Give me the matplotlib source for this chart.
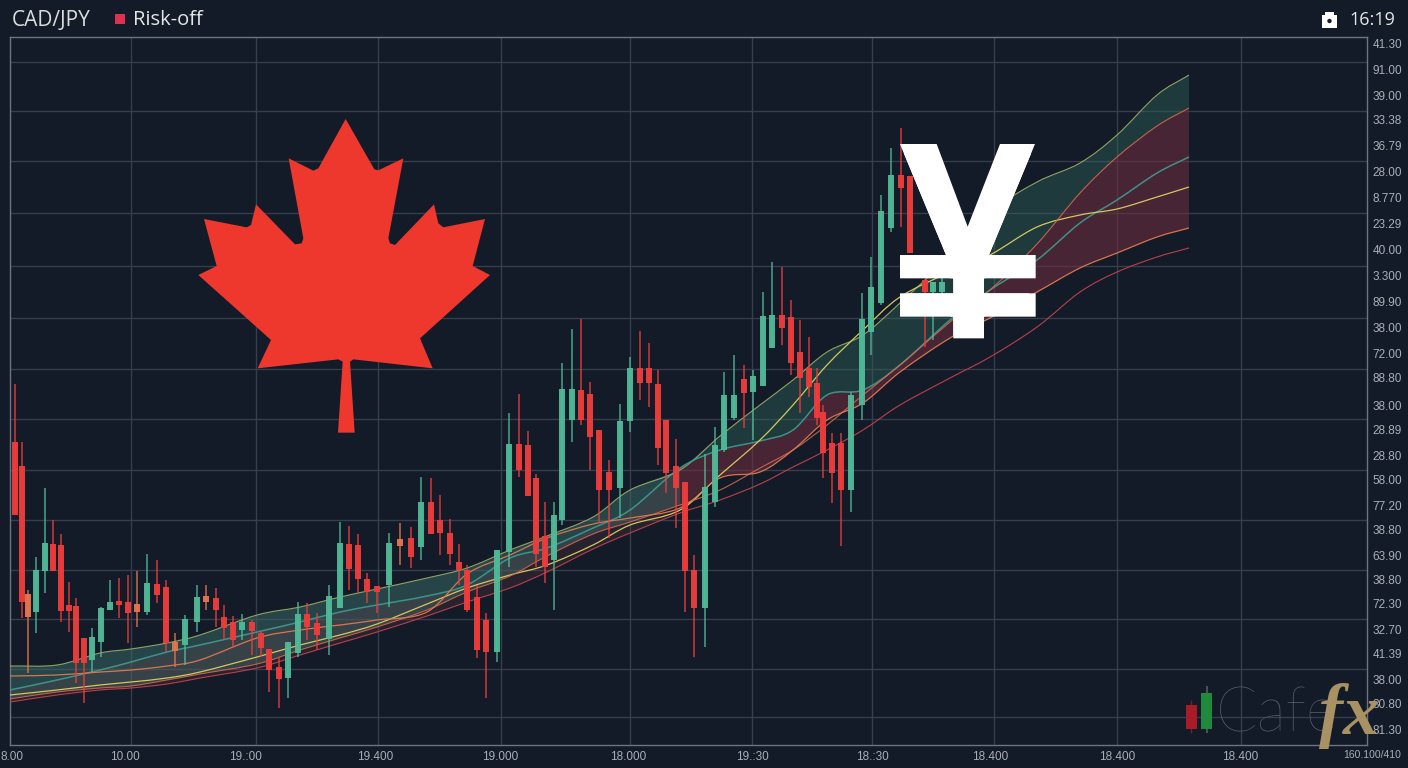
import numpy as np
import matplotlib
matplotlib.use("Agg")
import matplotlib.pyplot as plt
import matplotlib.patheffects as pe
from matplotlib.patches import Polygon, Rectangle, Circle, PathPatch
from matplotlib.path import Path

candle_x = [15, 22, 28, 36, 45, 53, 61, 69, 76, 84, 92, 101, 110, 119, 128, 137, 147, 157, 166, 175,
            185, 197, 206, 216, 224, 233, 242, 252, 261, 269, 279, 288, 298, 307, 317, 329, 340, 349, 358, 367,
            377, 389, 400, 411, 421, 431, 440, 450, 459, 467, 477, 486, 497, 509, 519, 528, 536, 545, 554, 562,
            572, 581, 590, 599, 609, 620, 630, 640, 649, 658, 666, 676, 685, 694, 705, 715, 724, 734, 744, 753,
            763, 772, 782, 791, 800, 809, 817, 823, 832, 841, 851, 862, 871, 881, 891, 901, 910, 925, 933, 942]
candle_high = [384, 442, 590, 557, 488, 520, 534, 582, 598, 638, 628, 607, 580, 578, 575, 571, 554, 560, 580, 633,
               615, 585, 585, 588, 605, 616, 614, 620, 632, 649, 657, 642, 602, 603, 613, 585, 522, 526, 534, 573,
               586, 533, 523, 527, 477, 478, 495, 519, 544, 565, 585, 613, 550, 413, 394, 431, 474, 502, 502, 363,
               329, 319, 382, 430, 460, 404, 357, 331, 343, 370, 420, 439, 482, 555, 454, 427, 372, 355, 365, 370,
               292, 262, 267, 300, 320, 337, 368, 405, 433, 433, 392, 293, 257, 195, 148, 128, 176, 280, 282, 278]
candle_low = [515, 618, 673, 633, 593, 571, 622, 632, 683, 703, 672, 657, 610, 618, 643, 627, 615, 603, 652, 667,
              665, 632, 610, 627, 640, 647, 640, 655, 657, 692, 708, 698, 657, 640, 650, 655, 608, 590, 593, 603,
              613, 607, 565, 568, 560, 534, 555, 565, 585, 612, 658, 698, 662, 567, 477, 496, 567, 583, 610, 525,
              442, 425, 470, 523, 538, 518, 432, 400, 407, 465, 493, 528, 612, 657, 647, 507, 452, 420, 428, 440,
              386, 348, 345, 375, 413, 397, 425, 478, 503, 546, 512, 420, 355, 305, 232, 227, 253, 347, 340, 300]
body_top = [442, 466, 594, 570, 543, 544, 545, 605, 606, 638, 637, 608, 602, 601, 602, 604, 583, 584, 587, 642,
            619, 597, 596, 598, 617, 622, 622, 622, 633, 649, 667, 642, 614, 614, 623, 596, 543, 544, 545, 579,
            586, 543, 539, 538, 502, 502, 520, 533, 562, 570, 597, 620, 550, 444, 444, 445, 478, 536, 515, 389,
            389, 390, 394, 430, 472, 421, 368, 368, 368, 384, 420, 466, 482, 570, 487, 445, 395, 395, 379, 376,
            316, 315, 315, 317, 352, 368, 383, 412, 443, 443, 395, 319, 287, 211, 175, 175, 176, 280, 282, 282]
body_bot = [515, 602, 617, 612, 571, 571, 611, 611, 663, 663, 660, 642, 610, 605, 613, 612, 612, 595, 643, 651,
            645, 622, 602, 610, 628, 640, 630, 631, 648, 670, 679, 678, 653, 627, 635, 639, 608, 569, 579, 592,
            592, 585, 546, 557, 547, 534, 533, 554, 570, 610, 650, 652, 652, 552, 470, 496, 554, 567, 560, 520,
            420, 420, 437, 490, 490, 488, 421, 383, 383, 448, 473, 488, 571, 608, 608, 502, 450, 418, 393, 392,
            386, 348, 328, 363, 378, 387, 418, 453, 473, 490, 490, 405, 332, 303, 228, 188, 253, 292, 292, 292]
# 0 red, 1 green, 2 orange
candle_kind = [0, 0, 2, 1, 1, 0, 0, 0, 0, 0, 1, 1, 1, 0, 0, 2, 1, 0, 0, 2,
               1, 1, 2, 0, 0, 0, 1, 0, 0, 0, 0, 1, 1, 0, 0, 1, 1, 0, 0, 0,
               0, 1, 2, 0, 1, 0, 0, 0, 0, 0, 0, 0, 1, 1, 0, 0, 0, 0, 1, 1,
               1, 0, 0, 0, 0, 1, 1, 0, 0, 0, 0, 0, 0, 0, 1, 1, 1, 1, 0, 1,
               1, 1, 0, 0, 0, 0, 0, 0, 0, 0, 1, 1, 1, 1, 1, 0, 0, 0, 1, 1]

ma_x = [10, 57, 100, 131, 167, 200, 257, 300, 340, 377, 427, 467, 510, 547, 593, 630, 680, 720, 760, 793,
        827, 863, 900, 950, 990, 1037, 1080, 1117, 1157, 1189]
ma_top = [666, 665, 653, 649, 643, 635, 615, 607, 597, 589, 578, 568, 550, 536, 517, 490, 470, 436, 405, 380,
          352, 335, 303, 256, 212, 182, 163, 135, 95, 75]
ma_teal = [690, 680, 670, 662, 652, 645, 632, 622, 612, 605, 596, 585, 558, 548, 528, 510, 468, 450, 441, 430,
           395, 390, 365, 320, 290, 260, 223, 200, 173, 157]
ma_lime = [695, 690, 685, 682, 678, 672, 657, 645, 635, 624, 604, 588, 575, 565, 545, 525, 510, 475, 440, 405,
           365, 330, 297, 272, 255, 227, 215, 209, 197, 187]
ma_band = [699, 692, 688, 686, 680, 674, 664, 650, 638, 627, 610, 592, 576, 556, 534, 522, 505, 490, 468, 450,
           425, 395, 365, 322, 290, 244, 193, 157, 126, 108]
ma_orange = [676, 675, 672, 670, 666, 660, 638, 630, 625, 620, 612, 574, 555, 538, 524, 518, 508, 478, 472, 450,
             420, 403, 372, 338, 318, 292, 268, 253, 237, 228]
ma_red = [702, 695, 690, 688, 684, 678, 668, 655, 643, 632, 616, 602, 588, 572, 549, 533, 513, 500, 484, 467,
          450, 430, 405, 378, 357, 327, 292, 272, 257, 248]

grid_y = [62, 111, 161, 213, 266, 318, 369, 419, 470, 520, 570, 619, 669, 717]
grid_x = [131, 256, 378, 501, 630, 752, 872, 994, 1117, 1241]

right_y = [44, 70, 95, 120, 146, 172, 197, 223, 249, 276, 302, 328, 353, 378, 405, 430, 455, 480, 505, 530,
           555, 580, 604, 630, 654, 680, 704, 730]
right_labels = ["41.30", "91.00", "39.00", "33.38", "36.79", "28.00", "8.770", "23.29", "40.00", "3.300",
                "89.90", "38.00", "72.00", "88.80", "38.00", "28.89", "28.80", "58.00", "77.20", "38.80",
                "63.90", "38.80", "72.30", "32.70", "41.39", "38.00", "30.80", "81.30"]
bottom_x = [12, 125, 245, 375, 500, 628, 752, 872, 990, 1117, 1240]
bottom_labels = ["8.00", "10.00", "19.:00", "19.400", "19.000", "18.000", "19.:30", "18.:30", "18.400",
                 "18.400", "18.400"]

leaf_z = [(467, 27), (553, 178), (565, 181), (640, 145), (595, 385), (600, 400), (615, 405), (732, 283),
          (745, 340), (760, 352), (885, 327), (848, 468), (900, 495), (690, 685), (728, 775), (490, 748),
          (480, 755), (494, 968), (444, 968), (458, 755), (445, 748), (203, 775), (243, 690), (25, 495),
          (80, 468), (42, 327), (170, 352), (183, 345), (198, 283), (315, 403), (335, 400), (340, 385),
          (296, 145), (370, 182), (385, 175)]
yen_z = [(180, 252), (290, 252), (383, 500), (480, 252), (585, 252), (447, 585), (587, 585), (587, 655),
         (432, 655), (432, 700), (587, 700), (587, 770), (432, 770), (432, 835), (340, 835), (340, 770),
         (180, 770), (180, 700), (340, 700), (340, 655), (180, 655), (180, 585), (318, 585)]

BG = "#141b28"
KIND_COLORS = {0: "#ef3c3c", 1: "#51ba98", 2: "#e8744f"}
TICK = "#a9aeb6"
plt.rcParams["font.family"] = ["Liberation Sans", "DejaVu Sans"]

W, H = 1408, 768
L, R, T, B = 10, 1367, 37, 745


def curve_segments(x, y):
    # bezier control points so the read points join up without kinks
    x, y = np.asarray(x, float), np.asarray(y, float)
    dx = np.gradient(x)
    dy = np.gradient(y)
    verts = []
    for i in range(len(x) - 1):
        verts += [(x[i] + dx[i] / 3, y[i] + dy[i] / 3),
                  (x[i + 1] - dx[i + 1] / 3, y[i + 1] - dy[i + 1] / 3),
                  (x[i + 1], y[i + 1])]
    return verts


def smooth_line(ax, x, y, **kw):
    verts = [(x[0], y[0])] + curve_segments(x, y)
    codes = [Path.MOVETO] + [Path.CURVE4] * (len(verts) - 1)
    ax.add_patch(PathPatch(Path(verts, codes), fc="none", **kw))


def ribbon(ax, x, y1, y2, **kw):
    fwd = curve_segments(x, y1)
    back = curve_segments(x[::-1], y2[::-1])
    verts = [(x[0], y1[0])] + fwd + [(x[-1], y2[-1])] + back + [(x[0], y1[0])]
    codes = ([Path.MOVETO] + [Path.CURVE4] * len(fwd) + [Path.LINETO]
             + [Path.CURVE4] * len(back) + [Path.CLOSEPOLY])
    ax.add_patch(PathPatch(Path(verts, codes), lw=0, ec="none", **kw))


fig = plt.figure(figsize=(W / 100, H / 100), dpi=100, facecolor=BG)
ax = fig.add_axes([L / W, 1 - B / H, (R - L) / W, (B - T) / H], facecolor=BG)
ax.set_xlim(L, R)
ax.set_ylim(B, T)

for spine in ax.spines.values():
    spine.set_color("#6d7380")
    spine.set_linewidth(1.0)
ax.hlines(grid_y, L, R, color="#363d4b", lw=1.0, zorder=1)
ax.vlines(grid_x, T, B, color="#363d4b", lw=1.0, zorder=1)

ax.yaxis.tick_right()
ax.set_yticks(right_y, right_labels, fontsize=8.5, color=TICK)
ax.set_xticks(bottom_x, bottom_labels, fontsize=8.5, color=TICK)
ax.tick_params(length=0)
ax.tick_params(axis="y", pad=4)
ax.tick_params(axis="x", pad=4)
fig.text(1372 / W, 1 - 755 / H, "160.100/410", fontsize=7.5, color=TICK, ha="center", va="center")

# moving average ribbon
x_ma = np.array(ma_x, float)
top, teal, lime = np.array(ma_top, float), np.array(ma_teal, float), np.array(ma_lime, float)
band, orange, low = np.array(ma_band, float), np.array(ma_orange, float), np.array(ma_red, float)
left = x_ma <= 680
right = x_ma >= 680
upper_red = np.minimum(teal, band)
ribbon(ax, x_ma[left], top[left], band[left], fc="#3a6f68", alpha=0.5, zorder=2)
ribbon(ax, x_ma[left], teal[left], low[left], fc="#7a3a48", alpha=0.2, zorder=2)
ribbon(ax, x_ma[right], top[right], upper_red[right], fc="#2f6b5e", alpha=0.4, zorder=2)
ribbon(ax, x_ma[right], upper_red[right], orange[right], fc="#7a2f42", alpha=0.5, zorder=2)
smooth_line(ax, x_ma, top, ec="#a3b56b", lw=0.8, alpha=0.85, zorder=3)
smooth_line(ax, x_ma, teal, ec="#3f9c91", lw=1.1, alpha=0.9, zorder=3)
smooth_line(ax, x_ma, lime, ec="#d2c85c", lw=0.9, zorder=3)
smooth_line(ax, x_ma, band, ec="#d0694e", lw=0.8, alpha=0.9, zorder=3)
smooth_line(ax, x_ma, orange, ec="#de7a50", lw=0.9, alpha=0.95, zorder=3)
smooth_line(ax, x_ma, low, ec="#b8404a", lw=0.8, zorder=3)

# candles
for x, hi, lo, b_top, b_bot, kind in zip(candle_x, candle_high, candle_low, body_top, body_bot, candle_kind):
    c = KIND_COLORS[kind]
    ax.vlines(x, hi, lo, color=c, lw=1.2, alpha=0.8, zorder=4)
    ax.bar(x, b_bot - b_top, bottom=b_top, width=6.8, color=c, lw=0, alpha=0.95, zorder=5)

# maple leaf, zoom crop coordinates scaled back to the image
leaf = [(190 + zx / 3, 110 + zy / 3) for zx, zy in leaf_z]
ax.add_patch(Polygon(leaf, closed=True, fc="#ee382e", ec="none", joinstyle="round", zorder=6))

# yen sign: the glyph is thinner than the reference one, so it is clipped to the outline that fills it out.
# agg only honours a clip path on text drawn as a path, hence the path effect
yen = [(840 + zx / 3, 60 + zy / 3) for zx, zy in yen_z]
yen_patch = Polygon(yen, closed=True, fc="white", ec="none", zorder=7)
ax.add_patch(yen_patch)
yen_text = ax.text(968, 240, "\u00a5", fontsize=190, fontweight="bold", color="white", ha="center",
                   va="center_baseline", zorder=7, family="Liberation Sans", clip_on=True,
                   path_effects=[pe.Normal()])
yen_text.set_clip_path(yen_patch)

# header
fig.text(12 / W, 1 - 20 / H, "CAD/JPY", fontsize=15, color="#d9dddd", va="center", family="Open Sans")
ax.add_patch(Rectangle((115, 14), 10, 10, fc="#e0304f", ec="none", clip_on=False))
fig.text(133 / W, 1 - 20 / H, "Risk-off", fontsize=14.5, color="#e3e6e6", va="center", family="Open Sans")
ax.add_patch(Rectangle((1322, 15), 15, 13, fc="white", ec="none", clip_on=False))
ax.add_patch(Rectangle((1325, 12), 9, 4, fc="white", ec="none", clip_on=False))
ax.add_patch(Circle((1329.5, 21), 2.2, fc=BG, ec="none", clip_on=False))
fig.text(1349 / W, 1 - 20 / H, "16:19", fontsize=13, color="#e3e6e6", va="center", family="Open Sans")

# watermark
ax.vlines(1191, 700, 733, color="#5a2a30", lw=1, zorder=8)
ax.bar(1191.5, 24, bottom=705, width=11, color="#a81c28", lw=0, zorder=8)
ax.vlines(1206.5, 686, 733, color="#3e5a48", lw=1.5, zorder=8)
ax.bar(1206.5, 36, bottom=693, width=11, color="#1f8a3c", lw=0, zorder=8)
ax.text(1216, 714, "Cafe", fontsize=44, color="#5a5e66", family="Lato", fontweight="light", ha="left",
        va="center", zorder=8)
ax.text(1349, 716, "fx", fontsize=52, color="#a89163", family="Liberation Serif", style="italic", fontweight="bold",
        ha="center", va="center", zorder=9, clip_on=False)

fig.savefig("out.png", dpi=100, facecolor=BG)
plt.close(fig)
